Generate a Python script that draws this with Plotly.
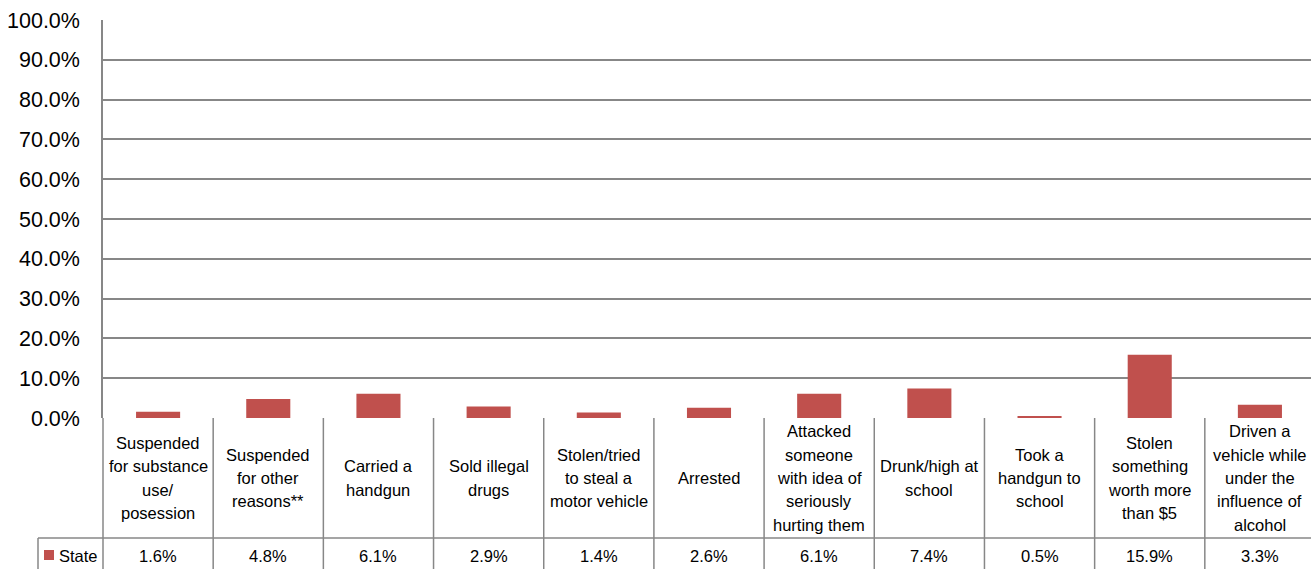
import plotly.graph_objects as go

# Categories and values
categories = [
    "Suspended<br>for substance<br>use/<br>posession",
    "Suspended<br>for other<br>reasons**",
    "Carried a<br>handgun",
    "Sold illegal<br>drugs",
    "Stolen/tried<br>to steal a<br>motor vehicle",
    "Arrested",
    "Attacked<br>someone<br>with idea of<br>seriously<br>hurting them",
    "Drunk/high at<br>school",
    "Took a<br>handgun to<br>school",
    "Stolen<br>something<br>worth more<br>than $5",
    "Driven a<br>vehicle while<br>under the<br>influence of<br>alcohol",
]
state_values = [0.016, 0.048, 0.061, 0.029, 0.014, 0.026, 0.061, 0.074, 0.005, 0.159, 0.033]
series_name = "State"
y_ticks = [0.0, 0.1, 0.2, 0.3, 0.4, 0.5, 0.6, 0.7, 0.8, 0.9, 1.0]

# the plot area runs a few pixels past the right edge of the window
W, H = 1315, 569
ML, MR, MT, MB = 103, 0, 20, 151
plot_h = H - MT - MB
plot_w = W - ML - MR
BAR = "#C0504D"
GRID = "#878787"
FONT = "Liberation Sans, Arial, sans-serif"

n = len(categories)
xs = list(range(n))


def py(pixel_y):
    # pixel row -> paper y
    return (H - MB - pixel_y) / plot_h


def px(pixel_x):
    return (pixel_x - ML) / plot_w


fig = go.Figure()
fig.add_trace(go.Bar(
    x=xs, y=state_values, name=series_name,
    marker=dict(color=BAR, line=dict(width=0)),
    width=0.4, showlegend=False, hoverinfo="skip",
))

shapes = []
annotations = []
line = dict(color=GRID, width=1.5)

header_bottom = py(538)
table_bottom = py(600)

# table frame: vertical separators under each category
for i in range(n + 1):
    shapes.append(dict(type="line", xref="paper", yref="paper",
                       x0=i / n, x1=i / n, y0=0, y1=table_bottom, line=line))
# horizontal line between header row and value row
shapes.append(dict(type="line", xref="paper", yref="paper",
                   x0=px(38), x1=1, y0=header_bottom, y1=header_bottom, line=line))
shapes.append(dict(type="line", xref="paper", yref="paper",
                   x0=px(38), x1=px(38), y0=header_bottom, y1=table_bottom, line=line))
# legend key
shapes.append(dict(type="rect", xref="paper", yref="paper",
                   x0=px(44), x1=px(54), y0=py(560), y1=py(550),
                   fillcolor=BAR, line=dict(width=0)))
annotations.append(dict(text=series_name, xref="paper", yref="paper",
                        x=px(57), y=py(556), xanchor="left", yanchor="middle",
                        showarrow=False, font=dict(size=16.5, color="#000", family=FONT)))

# category headers, one annotation per line for Excel-like spacing
line_gap = 23.3
for x, label in zip(xs, categories):
    parts = label.split("<br>")
    top = 478 - line_gap * (len(parts) - 1) / 2
    for k, part in enumerate(parts):
        annotations.append(dict(text=part, xref="x", yref="paper",
                                x=x, y=py(top + k * line_gap),
                                xanchor="center", yanchor="middle", showarrow=False,
                                font=dict(size=16.5, color="#000", family=FONT)))

# value row
for x, v in zip(xs, state_values):
    annotations.append(dict(text=f"{v * 100:.1f}%", xref="x", yref="paper",
                            x=x, y=py(556), xanchor="center", yanchor="middle",
                            showarrow=False,
                            font=dict(size=16.5, color="#000", family=FONT)))

fig.update_layout(
    width=W, height=H,
    margin=dict(l=ML, r=MR, t=MT, b=MB, pad=0, autoexpand=False),
    paper_bgcolor="white", plot_bgcolor="white",
    font=dict(family=FONT, color="#000"),
    bargap=0.6,
    shapes=shapes,
    annotations=annotations,
    xaxis=dict(range=[-0.5, n - 0.5], showticklabels=False, showgrid=False,
               zeroline=False, showline=False, ticks="", fixedrange=True),
    yaxis=dict(range=[0, 1.0], tickvals=y_ticks, tickformat=".1%",
               showgrid=True, gridcolor=GRID, gridwidth=1.5,
               showline=True, linecolor=GRID, linewidth=1.5,
               zeroline=False, ticks="", ticklabelstandoff=17, automargin=False,
               tickfont=dict(size=21.5, color="#000", family=FONT),
               fixedrange=True),
)

# drop the default page margin so the figure fills the window exactly
fig.write_html("out.html", config={"displayModeBar": False},
               post_script="document.body.style.margin='0';document.body.style.overflow='hidden';")
